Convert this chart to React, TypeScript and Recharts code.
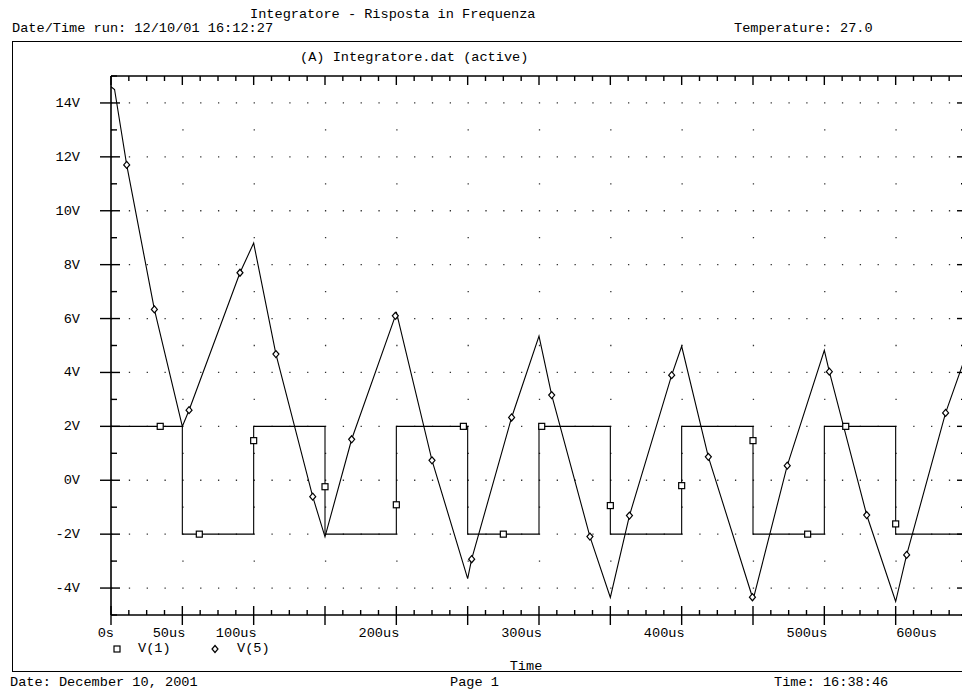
import React from "react";
import {
  LineChart,
  Line,
  XAxis,
  YAxis,
  Legend,
  ReferenceLine,
} from "recharts";

// V(1): square wave input [time us, volts, marker]
const v1Points: [number, number, number][] = [
  [0, 2, 0], [34.5, 2, 1], [50, 2, 0], [50, -2, 0], [61.9, -2, 1], [100, -2, 0],
  [100, 1.47, 1], [100, 2, 0], [150, 2, 0], [150, -0.24, 1], [150, -2, 0],
  [200, -2, 0], [200, -0.91, 1], [200, 2, 0], [247, 2, 1], [250, 2, 0],
  [250, -2, 0], [275, -2, 1], [300, -2, 0], [300, 2, 0], [301.9, 2, 1],
  [350, 2, 0], [350, -0.94, 1], [350, -2, 0], [400, -2, 0], [400, -0.2, 1],
  [400, 2, 0], [450, 2, 0], [450, 1.47, 1], [450, -2, 0], [488.3, -2, 1],
  [500, -2, 0], [500, 2, 0], [515, 2, 1], [550, 2, 0], [550, -1.62, 1],
  [550, -2, 0], [600, -2, 0],
];

// V(5): integrator output [time us, volts, marker]
const v5Points: [number, number, number][] = [
  [0, 14.6, 0], [2.5, 14.5, 0], [11, 11.7, 1], [30.4, 6.34, 1], [50, 2.0, 0],
  [54.7, 2.6, 1], [90.4, 7.7, 1], [100, 8.8, 0], [115.6, 4.68, 1],
  [141.4, -0.61, 1], [150, -2.1, 0], [168.7, 1.52, 1], [199.3, 6.1, 1],
  [200, 6.25, 0], [225, 0.74, 1], [250, -3.65, 0], [252.8, -2.93, 1],
  [280.8, 2.33, 1], [300, 5.35, 0], [308.9, 3.16, 1], [335.7, -2.09, 1],
  [350, -4.35, 0], [363.4, -1.31, 1], [393, 3.9, 1], [400, 4.97, 0],
  [418.7, 0.87, 1], [449.6, -4.34, 1], [450, -4.45, 0], [474, 0.54, 1],
  [500, 4.82, 0], [503.5, 4.03, 1], [529.7, -1.29, 1], [550, -4.5, 0],
  [557.7, -2.77, 1], [585, 2.5, 1], [600, 4.75, 0],
];

const xTicks = Array.from({ length: 49 }, (_, i) => i * 12.5);
const xLabels = [0, 50, 100, 200, 300, 400, 500, 600];
const yTicks = Array.from({ length: 21 }, (_, i) => i - 5);
const yLabels = [-4, -2, 0, 2, 4, 6, 8, 10, 12, 14];
const gridMajor = [-4, -2, 0, 2, 4, 6, 8, 10, 12, 14];
const gridMinor = [-3, -1, 1, 3, 5, 7, 9, 11, 13];

const FONT = '"Liberation Mono", "DejaVu Sans Mono", monospace';
const FS = 13.6;

const v1Data = v1Points.map(([t, v, m]) => ({ t, v, m }));
const v5Data = v5Points.map(([t, v, m]) => ({ t, v, m }));

const fmtX = (v: number) => (v === 0 ? "0s" : `${v}us`);

const SquareDot = (p: any) =>
  p.payload.m ? (
    <rect key={`s${p.index}`} x={p.cx - 3} y={p.cy - 3} width={6} height={6}
      fill="#fff" stroke="#000" strokeWidth={1.2} />
  ) : (
    <g key={`s${p.index}`} />
  );

const DiamondDot = (p: any) =>
  p.payload.m ? (
    <path key={`d${p.index}`}
      d={`M${p.cx},${p.cy - 3.5}L${p.cx + 3},${p.cy}L${p.cx},${p.cy + 3.5}L${p.cx - 3},${p.cy}Z`}
      fill="#fff" stroke="#000" strokeWidth={1.2} />
  ) : (
    <g key={`d${p.index}`} />
  );

const BottomTick = ({ x, y, payload }: any) => {
  const v = payload.value;
  const major = v % 50 === 0;
  return (
    <g>
      <line x1={x} x2={x} y1={y - (major ? 9 : 5)} y2={y + (major ? 10 : 0)}
        stroke="#000" strokeWidth={1.4} />
      {xLabels.includes(v) && (
        <text x={Math.min(x + 3, 937)} y={y + 22} textAnchor="end"
          fontFamily={FONT} fontSize={FS} fill="#000">
          {fmtX(v)}
        </text>
      )}
    </g>
  );
};

const TopTick = ({ x, y, payload }: any) => {
  const major = payload.value % 50 === 0;
  return (
    <line x1={x} x2={x} y1={y} y2={y + (major ? 9 : 5)} stroke="#000" strokeWidth={1.4} />
  );
};

const LeftTick = ({ x, y, payload }: any) => {
  const v = payload.value;
  const major = v % 2 === 0;
  return (
    <g>
      <line x1={x - (major ? 11 : 0)} x2={x + (major ? 9 : 6)} y1={y} y2={y}
        stroke="#000" strokeWidth={1.4} />
      {yLabels.includes(v) && (
        <text x={x - 31} y={y + 4} textAnchor="end" fontFamily={FONT} fontSize={FS} fill="#000">
          {`${v}V`}
        </text>
      )}
    </g>
  );
};

const RightTick = ({ x, y, payload }: any) => {
  const major = payload.value % 2 === 0;
  return (
    <line x1={x - (major ? 10 : 6)} x2={x} y1={y} y2={y} stroke="#000" strokeWidth={1.4} />
  );
};

const renderLegend = (props: any) => {
  const items = props.payload || [];
  return (
    <div style={{ position: "relative", height: 16, fontFamily: FONT, fontSize: FS }}>
      {items.map((e: any, i: number) => (
        <React.Fragment key={i}>
          <svg width={10} height={10}
            style={{ position: "absolute", left: i === 0 ? 112 : 210, top: 3 }}>
            {i === 0 ? (
              <rect x={2} y={2} width={6} height={6} fill="#fff" stroke="#000" strokeWidth={1.2} />
            ) : (
              <path d="M5,1.5L8,5L5,8.5L2,5Z" fill="#fff" stroke="#000" strokeWidth={1.2} />
            )}
          </svg>
          <span style={{ position: "absolute", left: i === 0 ? 138 : 237, top: 0, lineHeight: "16px" }}>
            {e.value}
          </span>
        </React.Fragment>
      ))}
    </div>
  );
};

const txt = { fontFamily: FONT, fontSize: FS, fill: "#000" };

export default function App() {
  return (
    <div style={{ position: "absolute", left: 0, top: 0, width: 962, height: 690, overflow: "hidden", background: "#fff" }}>
      <div style={{ position: "absolute", left: 12, top: 41, width: 1100, height: 629, border: "1px solid #000" }} />
      <div style={{ position: "absolute", left: 0, top: 0 }}>
        <LineChart width={1000} height={690} margin={{ top: 75, right: 23, left: 51, bottom: 19 }}>
          <XAxis xAxisId="b" dataKey="t" type="number" domain={[0, 600]} allowDataOverflow
            ticks={xTicks} interval={0} tickSize={0} tickMargin={0} tickLine={false}
            tick={BottomTick} height={56} axisLine={{ stroke: "#000", strokeWidth: 1.6 }}
            label={{ value: "Time", position: "insideBottom", offset: 1, dx: -13, style: txt }} />
          <XAxis xAxisId="top" orientation="top" dataKey="t" type="number" domain={[0, 600]}
            allowDataOverflow ticks={xTicks} interval={0} tickSize={0} tickMargin={0}
            tickLine={false} tick={TopTick} height={1} axisLine={{ stroke: "#000", strokeWidth: 1.6 }} />
          <YAxis yAxisId="l" type="number" domain={[-5, 15]} allowDataOverflow ticks={yTicks}
            interval={0} tickSize={0} tickMargin={0} tickLine={false} tick={LeftTick} width={60}
            axisLine={{ stroke: "#000", strokeWidth: 1.6 }} />
          <YAxis yAxisId="r" orientation="right" type="number" domain={[-5, 15]} allowDataOverflow
            ticks={yTicks} interval={0} tickSize={0} tickMargin={0} tickLine={false}
            tick={RightTick} width={10} axisLine={{ stroke: "#000", strokeWidth: 1.6 }} />
          {gridMajor.map((g) => (
            <ReferenceLine key={`gM${g}`} xAxisId="b" yAxisId="l" y={g} stroke="#333"
              strokeWidth={1.3} strokeDasharray="1.3 16.527" />
          ))}
          {gridMinor.map((g) => (
            <ReferenceLine key={`gm${g}`} xAxisId="b" yAxisId="l" y={g} stroke="#333"
              strokeWidth={1.3} strokeDasharray="1.3 70.01" />
          ))}
          <Legend layout="horizontal" verticalAlign="middle" align="center"
            wrapperStyle={{ left: 0, top: 641, width: 400 }} content={renderLegend} />
          <Line xAxisId="b" yAxisId="l" data={v1Data} dataKey="v" name="V(1)" type="linear"
            stroke="#000" strokeWidth={1.1} dot={SquareDot} isAnimationActive={false} />
          <Line xAxisId="b" yAxisId="l" data={v5Data} dataKey="v" name="V(5)" type="linear"
            stroke="#000" strokeWidth={1.1} dot={DiamondDot} isAnimationActive={false} />
        </LineChart>
      </div>
      <svg width={962} height={690} style={{ position: "absolute", left: 0, top: 0, pointerEvents: "none" }}>
        <text x={250} y={18} {...txt}>Integratore - Risposta in Frequenza</text>
        <text x={12} y={32} {...txt}>Date/Time run: 12/10/01 16:12:27</text>
        <text x={734} y={32} {...txt}>Temperature: 27.0</text>
        <text x={300} y={61} {...txt}>(A) Integratore.dat (active)</text>
        <text x={10} y={686} {...txt}>Date: December 10, 2001</text>
        <text x={450} y={686} {...txt}>Page 1</text>
        <text x={774} y={686} {...txt}>Time: 16:38:46</text>
      </svg>
    </div>
  );
}
